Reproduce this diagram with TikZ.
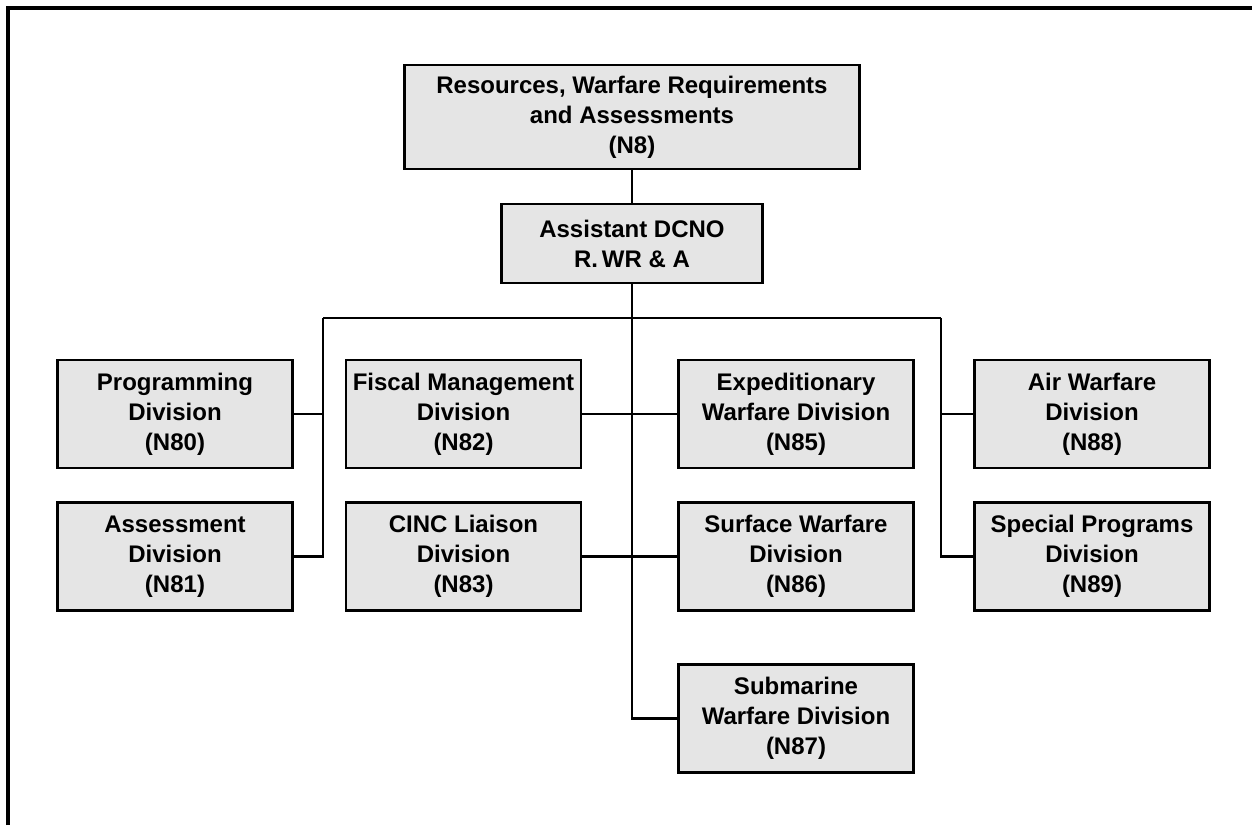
\documentclass[tikz,border=0pt]{standalone}
\usepackage{fontspec}
\setmainfont{Liberation Sans}
\usetikzlibrary{positioning}
\tikzset{
  divbox/.style   = {draw, line width=1.3pt, fill=black!10, minimum width=117.5pt,
                     minimum height=54pt, align=center, inner sep=0pt,
                     font=\bfseries\fontsize{12}{15}\selectfont},
  wire/.style     = {line width=1.1pt},
  pageframe/.style = {line width=1.7pt},
}
\begin{document}
\begin{tikzpicture}[x=0.5pt,y=-0.5pt]
  \useasboundingbox (0,0) rectangle (1252,825);
  \draw[pageframe] (8,825) -- (8,8) -- (1252,8);
  % head and assistant
  \node[divbox, minimum width=227.5pt, minimum height=52pt] (n8) at (632,117)
      {Resources, Warfare Requirements\\and Assessments\\(N8)};
  \node[divbox, minimum width=130.5pt, minimum height=39.5pt] (adcno) at (632,243.5)
      {Assistant DCNO\\R.\,WR \& A};
  % divisions
  \node[divbox] (n80) at (175,414)    {Programming\\Division\\(N80)};
  \node[divbox] (n81) at (175,556.5)  {Assessment\\Division\\(N81)};
  \node[divbox] (n82) at (463.5,414)  {Fiscal Management\\Division\\(N82)};
  \node[divbox] (n83) at (463.5,556.5){CINC Liaison\\Division\\(N83)};
  \node[divbox] (n85) at (796,414)    {Expeditionary\\Warfare Division\\(N85)};
  \node[divbox] (n86) at (796,556.5)  {Surface Warfare\\Division\\(N86)};
  \node[divbox] (n87) at (796,718.5)  {Submarine\\Warfare Division\\(N87)};
  \node[divbox] (n88) at (1092,414)   {Air Warfare\\Division\\(N88)};
  \node[divbox] (n89) at (1092,556.5) {Special Programs\\Division\\(N89)};
  % bus
  \coordinate (lbus) at (323,318);
  \coordinate (rbus) at (941,318);
  \draw[wire] (n8) -- (adcno);
  \draw[wire] (adcno.south) |- (n87.west);
  \draw[wire] (lbus) -- (rbus);
  \draw[wire] (n80.east) -| (lbus);
  \draw[wire] (n81.east) -| (lbus);
  \draw[wire] (n88.west) -| (rbus);
  \draw[wire] (n89.west) -| (rbus);
  \draw[wire] (n82.east) -- (n85.west);
  \draw[wire] (n83.east) -- (n86.west);
\end{tikzpicture}
\end{document}
